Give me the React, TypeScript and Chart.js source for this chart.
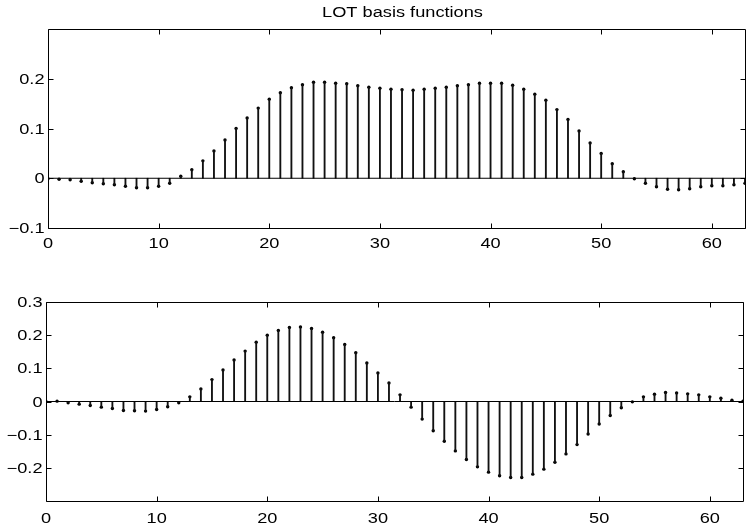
import { useEffect, useRef } from "react";
import { Chart, registerables } from "chart.js";

Chart.register(...registerables);

// Sample positions n = 0 … 63 of the two basis functions
const sampleIndex = [
  0, 1, 2, 3, 4, 5, 6, 7, 8, 9, 10, 11, 12, 13, 14, 15,
  16, 17, 18, 19, 20, 21, 22, 23, 24, 25, 26, 27, 28, 29, 30, 31,
  32, 33, 34, 35, 36, 37, 38, 39, 40, 41, 42, 43, 44, 45, 46, 47,
  48, 49, 50, 51, 52, 53, 54, 55, 56, 57, 58, 59, 60, 61, 62, 63,
];

// First (even, low-pass) LOT basis function
const basisEven = [
  -0.001, -0.002, -0.003, -0.006, -0.009, -0.011, -0.013, -0.016,
  -0.019, -0.019, -0.016, -0.01, 0.004, 0.017, 0.035, 0.055,
  0.077, 0.1, 0.121, 0.141, 0.159, 0.172, 0.182, 0.188,
  0.193, 0.193, 0.191, 0.19, 0.186, 0.183, 0.181, 0.179,
  0.178, 0.177, 0.179, 0.181, 0.183, 0.186, 0.188, 0.191,
  0.191, 0.191, 0.187, 0.179, 0.169, 0.157, 0.138, 0.118,
  0.095, 0.071, 0.05, 0.029, 0.013, -0.001, -0.01, -0.017,
  -0.022, -0.023, -0.021, -0.017, -0.015, -0.015, -0.013, -0.01,
];

// Second (odd) LOT basis function
const basisOdd = [
  0.0, 0.001, -0.004, -0.008, -0.012, -0.017, -0.021, -0.027,
  -0.028, -0.029, -0.024, -0.016, -0.004, 0.014, 0.038, 0.066,
  0.095, 0.125, 0.152, 0.179, 0.2, 0.214, 0.223, 0.225,
  0.22, 0.209, 0.192, 0.172, 0.147, 0.116, 0.086, 0.056,
  0.02, -0.017, -0.053, -0.088, -0.12, -0.149, -0.175, -0.197,
  -0.213, -0.224, -0.229, -0.229, -0.219, -0.204, -0.183, -0.158,
  -0.13, -0.098, -0.068, -0.042, -0.019, -0.001, 0.014, 0.022,
  0.027, 0.026, 0.023, 0.02, 0.014, 0.01, 0.004, 0.001,
];

const xTickValues = [0, 10, 20, 30, 40, 50, 60];
const evenYTicks = [-0.1, 0, 0.1, 0.2];
const oddYTicks = [-0.2, -0.1, 0, 0.1, 0.2, 0.3];

const TITLE = "LOT basis functions";

const FONT = '14px "Liberation Sans", Arial, Helvetica, sans-serif';
const TEXT_STRETCH = 1.3;
const TICK_LEN = 5;

function formatTick(v: number): string {
  const r = Math.round(v * 10) / 10;
  if (r === 0) return "0";
  return String(r).replace("-", "\u2212");
}

function drawText(
  ctx: CanvasRenderingContext2D,
  text: string,
  x: number,
  y: number,
  align: CanvasTextAlign
) {
  ctx.save();
  ctx.translate(x, y);
  ctx.scale(TEXT_STRETCH, 1);
  ctx.textAlign = align;
  ctx.textBaseline = "alphabetic";
  ctx.fillText(text, 0, 0);
  ctx.restore();
}

type PanelProps = {
  values: number[];
  yMin: number;
  yMax: number;
  yTicks: number[];
  width: number;
  height: number;
  top: number;
  // left axis width, right gap, top gap, bottom axis height
  box: { left: number; right: number; top: number; bottom: number };
  labelGap: number;
  title?: string;
};

function StemPanel(props: PanelProps) {
  const ref = useRef<HTMLCanvasElement | null>(null);

  useEffect(() => {
    const canvas = ref.current;
    if (!canvas) return;
    const { values, yMin, yMax, yTicks, box, labelGap, title } = props;

    const stems = sampleIndex.map((x, i) => ({ x, y: values[i] }));
    const first = sampleIndex[0];
    const last = sampleIndex[sampleIndex.length - 1];

    const axesPlugin = {
      id: "matlabAxes",
      afterDraw(chart: any) {
        const { ctx, chartArea: a, scales } = chart;
        const xs = scales.x;
        const ys = scales.y;
        const L = Math.round(a.left) + 0.5;
        const R = Math.round(a.right) + 0.5;
        const T = Math.round(a.top) + 0.5;
        const B = Math.round(a.bottom) + 0.5;
        ctx.save();
        ctx.strokeStyle = "#000";
        ctx.lineWidth = 1;
        ctx.beginPath();
        ctx.rect(L, T, R - L, B - T);
        xTickValues.forEach((v) => {
          const px = Math.round(xs.getPixelForValue(v)) + 0.5;
          ctx.moveTo(px, B);
          ctx.lineTo(px, B - TICK_LEN);
          ctx.moveTo(px, T);
          ctx.lineTo(px, T + TICK_LEN);
        });
        yTicks.forEach((v) => {
          const py = Math.round(ys.getPixelForValue(v)) + 0.5;
          ctx.moveTo(L, py);
          ctx.lineTo(L + TICK_LEN, py);
          ctx.moveTo(R, py);
          ctx.lineTo(R - TICK_LEN, py);
        });
        ctx.stroke();

        ctx.fillStyle = "#000";
        ctx.font = FONT;
        xTickValues.forEach((v) => {
          drawText(ctx, formatTick(v), xs.getPixelForValue(v), B + labelGap, "center");
        });
        yTicks.forEach((v) => {
          drawText(ctx, formatTick(v), L - 4, ys.getPixelForValue(v) + 5, "right");
        });
        if (title) {
          drawText(ctx, title, (a.left + a.right) / 2 + 6, 17, "center");
        }
        ctx.restore();
      },
    };

    const chart = new Chart(canvas, {
      type: "bar",
      data: {
        datasets: [
          {
            type: "line",
            data: [
              { x: first, y: 0 },
              { x: last, y: 0 },
            ],
            borderColor: "#000",
            borderWidth: 1,
            pointRadius: 0,
            fill: false,
          } as any,
          {
            type: "bar",
            data: stems,
            backgroundColor: "#111",
            borderWidth: 0,
            barThickness: 1.2,
          } as any,
          {
            type: "scatter",
            data: stems,
            backgroundColor: "#000",
            borderColor: "#000",
            borderWidth: 0,
            pointRadius: 1.7,
            pointStyle: "circle",
          } as any,
        ],
      },
      options: {
        responsive: false,
        animation: false,
        devicePixelRatio: 1,
        events: [],
        layout: { padding: { left: 0, bottom: 0, top: box.top, right: box.right } },
        plugins: {
          legend: { display: false },
          tooltip: { enabled: false },
          title: { display: false },
        },
        scales: {
          x: {
            type: "linear",
            min: first,
            max: last,
            offset: false,
            grid: { display: false, drawTicks: false },
            border: { display: false },
            ticks: { display: false },
            afterFit: (s: any) => {
              s.height = box.bottom;
            },
          },
          y: {
            type: "linear",
            min: yMin,
            max: yMax,
            grid: { display: false, drawTicks: false },
            border: { display: false },
            ticks: { display: false, stepSize: 0.1 },
            afterFit: (s: any) => {
              s.width = box.left;
            },
          },
        },
      } as any,
      plugins: [axesPlugin],
    });

    return () => chart.destroy();
  }, []);

  return (
    <canvas
      ref={ref}
      width={props.width}
      height={props.height}
      style={{ position: "absolute", left: 0, top: props.top }}
    />
  );
}

export default function App() {
  return (
    <div
      style={{
        position: "absolute",
        left: 0,
        top: 0,
        width: 749,
        height: 529,
        background: "#fff",
        overflow: "hidden",
      }}
    >
      <StemPanel
        values={basisEven}
        yMin={-0.1}
        yMax={0.3}
        yTicks={evenYTicks}
        width={749}
        height={262}
        top={0}
        box={{ left: 48, right: 4, top: 29, bottom: 34 }}
        labelGap={19}
        title={TITLE}
      />
      <StemPanel
        values={basisOdd}
        yMin={-0.3}
        yMax={0.3}
        yTicks={oddYTicks}
        width={749}
        height={267}
        top={262}
        box={{ left: 46, right: 6, top: 40, bottom: 28 }}
        labelGap={21}
      />
    </div>
  );
}
